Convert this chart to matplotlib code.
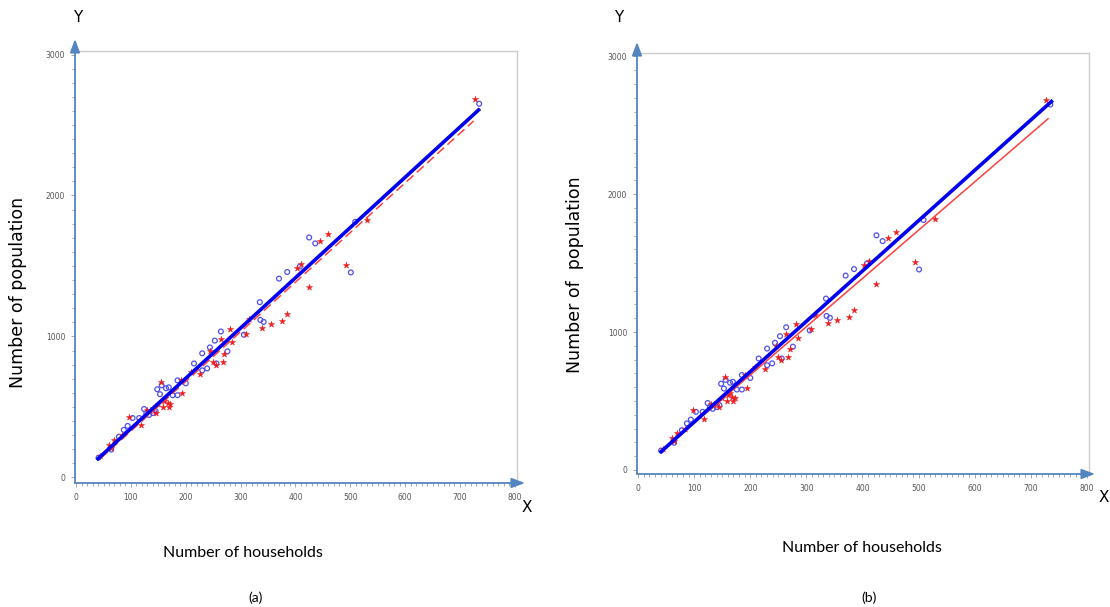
import numpy as np
import matplotlib
matplotlib.use("Agg")
import matplotlib.pyplot as plt
from matplotlib.ticker import MultipleLocator

# observed points (blue circles): households, population
obs_x = [41, 64, 78, 87, 94, 103, 115, 124, 133, 140, 148, 153, 156, 164, 169,
         176, 185, 185, 200, 215, 230, 239, 230, 244, 253, 256, 264, 276, 306,
         335, 336, 342, 370, 385, 408, 425, 436, 501, 509, 735, 145, 128]
obs_y = [140, 197, 288, 337, 365, 421, 421, 485, 443, 456, 625, 590, 653, 632, 639,
         583, 688, 583, 667, 808, 759, 773, 880, 922, 970, 808, 1035, 894, 1012,
         1243, 1117, 1103, 1410, 1457, 1496, 1702, 1660, 1454, 1813, 2651, 470, 455]

# estimated points (red stars)
est_x = [44, 64, 70, 97, 118, 130, 145, 155, 158, 167, 170, 194, 191, 209, 226,
         245, 250, 255, 264, 267, 270, 281, 285, 309, 315, 339, 355, 376, 385,
         402, 411, 424, 445, 459, 493, 530, 728, 135, 140, 150, 160, 163, 172, 60, 84]
est_y = [150, 211, 267, 431, 372, 478, 456, 677, 501, 527, 501, 597, 688, 747, 731,
         899, 817, 794, 984, 817, 876, 1056, 958, 1019, 1122, 1063, 1091, 1110, 1161,
         1485, 1513, 1349, 1679, 1726, 1508, 1824, 2686, 470, 490, 520, 540, 560, 520,
         230, 300]

# fitted lines: (x start, x end, slope, intercept)
fit_obs = {"a": (40, 734, 3.565, -10), "b": (41, 737, 3.65, -17)}
fit_est = {"a": (45, 725, 3.52, -23), "b": (41, 731, 3.50, -11)}

arrow_col = "#5585c0"

W, H = 1110, 607
fig = plt.figure(figsize=(W / 100, H / 100), dpi=100)


def fpx(x, y):
    return x / W, 1 - y / H


panels = [
    dict(name="a", box=(75, 51, 517, 483), ylo=-40, ytip=39, xtip=525,
         Y=(78, 18), X=(527, 507), ylab=(18, 292), ylab_txt="Number of population",
         xlab=(243, 553), cap=(256, 598), dash=True),
    dict(name="b", box=(637, 53, 1089, 474), ylo=-30, ytip=42, xtip=1095,
         Y=(619, 18), X=(1104, 497), ylab=(575, 275), ylab_txt="Number of  population",
         xlab=(862, 548), cap=(869, 598), dash=False),
]

for p in panels:
    l, t, r, b = p["box"]
    ax = fig.add_axes([l / W, 1 - b / H, (r - l) / W, (b - t) / H])
    ax.set_xlim(-2, 804)
    ax.set_ylim(p["ylo"], 3025)

    ax.scatter(obs_x, obs_y, s=12, facecolors="none", edgecolors="#5050ee",
               linewidths=0.9, zorder=3)
    ax.scatter(est_x, est_y, s=22, marker="*", color="#ee1c1c", linewidths=0.3,
               zorder=3)

    x0, x1, m, c = fit_est[p["name"]]
    xs = np.array([x0, x1])
    ax.plot(xs, m * xs + c, color="#ff4040", lw=1.1,
            ls=(0, (6, 3)) if p["dash"] else "-", zorder=4)
    x0, x1, m, c = fit_obs[p["name"]]
    xs = np.array([x0, x1])
    ax.plot(xs, m * xs + c, color="#0000ee", lw=2.6, zorder=5)

    ax.set_xticks(range(0, 801, 100))
    ax.set_yticks([0, 1000, 2000, 3000])
    ax.xaxis.set_minor_locator(MultipleLocator(10))
    ax.yaxis.set_minor_locator(MultipleLocator(100))
    ax.tick_params(which="both", colors="#999999", labelcolor="#555555",
                   labelsize=5.5, width=0.6)
    ax.tick_params(which="major", length=3, pad=4)
    ax.tick_params(which="minor", length=2)

    for s in ("top", "right"):
        ax.spines[s].set_color("#cccccc")
        ax.spines[s].set_linewidth(1.0)
    for s in ("left", "bottom"):
        ax.spines[s].set_visible(False)

    # arrow axes
    ax.annotate("", xy=fpx(l, p["ytip"]), xytext=fpx(l, b),
                xycoords="figure fraction", textcoords="figure fraction",
                arrowprops=dict(arrowstyle="-|>,head_length=0.8,head_width=0.3",
                                color=arrow_col, lw=1.3, shrinkA=0, shrinkB=0))
    ax.annotate("", xy=fpx(p["xtip"], b), xytext=fpx(l, b),
                xycoords="figure fraction", textcoords="figure fraction",
                arrowprops=dict(arrowstyle="-|>,head_length=0.8,head_width=0.3",
                                color=arrow_col, lw=1.3, shrinkA=0, shrinkB=0))

    fig.text(*fpx(*p["Y"]), "Y", fontsize=11, ha="center", va="center",
             family="DejaVu Sans")
    fig.text(*fpx(*p["X"]), "X", fontsize=11, ha="center", va="center",
             family="DejaVu Sans")
    fig.text(*fpx(*p["ylab"]), p["ylab_txt"], fontsize=12.5, rotation=90,
             ha="center", va="center", family="DejaVu Sans")
    fig.text(*fpx(*p["xlab"]), "Number of households", fontsize=11.5,
             ha="center", va="center", family="Lato")
    fig.text(*fpx(*p["cap"]), "(" + p["name"] + ")", fontsize=10,
             ha="center", va="center", family="Lato")

fig.savefig("out.png", dpi=100)
